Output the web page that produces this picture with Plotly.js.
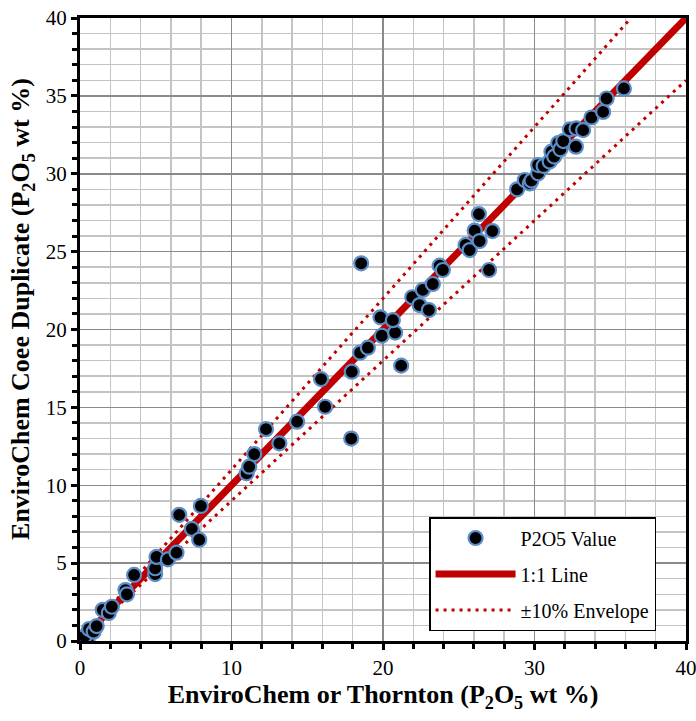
<!DOCTYPE html>
<html>
<head>
<meta charset="utf-8">
<script src="https://cdn.plot.ly/plotly-3.0.1.min.js"></script>
<style>html,body{margin:0;padding:0;background:#fff;}#chart{width:696px;height:721px;}</style>
</head>
<body>
<div id="chart"></div>
<script>
// Measured P2O5 values (wt %)
const xValues = [0.1,0.5,0.3,0.6,0.9,1.1,1.5,1.9,2.1,3.0,3.1,3.57,4.96,4.96,5.05,5.8,6.37,6.55,7.38,7.87,7.98,
  11.0,11.17,11.5,12.28,13.16,14.33,15.91,16.18,17.9,17.94,18.49,19.0,19.92,20.8,21.2,18.56,19.83,20.65,
  21.93,22.41,23.03,22.63,23.29,23.74,23.95,25.45,25.72,26.05,26.38,26.33,27.22,27.0,
  28.85,29.36,29.69,29.8,30.24,30.24,30.6,31.0,31.12,31.3,31.56,31.71,31.9,32.73,32.33,32.77,33.21,33.76,34.53,34.76,35.9];
const yValues = [0.05,0.0,0.3,0.77,0.6,0.96,2.0,1.8,2.2,3.27,3.0,4.24,4.3,4.67,5.4,5.24,5.67,8.1,7.2,6.5,8.67,
  10.77,11.19,12.0,13.6,12.69,14.08,16.82,15.04,13.0,17.29,18.51,18.83,19.6,19.8,17.68,24.25,20.78,20.6,
  22.07,21.57,21.25,22.54,22.92,24.1,23.82,25.43,25.1,26.35,25.68,27.41,26.32,23.82,
  29.0,29.6,29.38,29.56,30.03,30.56,30.5,30.78,31.42,31.1,31.96,31.57,32.1,31.74,32.85,32.91,32.8,33.61,33.97,34.83,35.48];
// 1:1 line and +/-10% envelope end points
const oneToOneX = [0, 40];
const oneToOneY = [0, 40];
const upperX = [0, 40/1.1];
const upperY = [0, 40];
const lowerX = [0, 40];
const lowerY = [0, 36];

const red = '#C00000';
const serif = 'Liberation Serif, Times New Roman, DejaVu Serif, serif';

const traces = [
  {x: upperX, y: upperY, mode: 'lines', name: '±10% Envelope', legendrank: 3, legendgroup: 'c',
   line: {color: red, width: 3, dash: '3px,5px'}, hoverinfo: 'skip'},
  {x: lowerX, y: lowerY, mode: 'lines', name: '±10% Envelope', showlegend: false, legendgroup: 'c',
   line: {color: red, width: 3, dash: '3px,5px'}, hoverinfo: 'skip'},
  {x: oneToOneX, y: oneToOneY, mode: 'lines', name: '1:1 Line', legendrank: 2, legendgroup: 'b',
   line: {color: red, width: 7}},
  {x: xValues, y: yValues, mode: 'markers', name: 'P2O5 Value', legendrank: 1, legendgroup: 'a',
   marker: {color: '#000000', size: 14, line: {color: '#5B8DC8', width: 2.2}}}
];

const layout = {
  width: 696, height: 721,
  margin: {l: 80, r: 10, t: 18, b: 80},
  paper_bgcolor: '#ffffff', plot_bgcolor: '#ffffff',
  font: {family: serif, color: '#000', size: 21, weight: 'normal'},
  showlegend: true,
  legend: {
    x: 0.576, y: 0.199, xanchor: 'left', yanchor: 'top',
    bgcolor: '#ffffff', bordercolor: '#000', borderwidth: 1.5,
    font: {family: serif, size: 20, color: '#000', weight: 'normal'},
    traceorder: 'grouped', tracegroupgap: 7, itemwidth: 80
  },
  xaxis: {
    range: [0, 40], dtick: 10, tick0: 0, ticklabeloverflow: 'allow',
    showline: true, linecolor: '#000', linewidth: 3, mirror: true,
    ticks: 'outside', ticklen: 6, tickwidth: 3, tickcolor: '#000',
    showgrid: true, gridcolor: '#8a8a8a', gridwidth: 1.5, zeroline: false,
    tickfont: {family: serif, size: 21, color: '#000', weight: 'normal'},
    minor: {dtick: 2, showgrid: true, gridcolor: '#c4c4c4', gridwidth: 1.5, ticks: 'outside', ticklen: 5, tickwidth: 3, tickcolor: '#000'},
    title: {text: 'EnviroChem or Thornton (P<sub>2</sub>O<sub>5</sub> wt %)', font: {family: serif, size: 26, color: '#000', weight: 'bold'}, standoff: 6}
  },
  yaxis: {
    range: [0, 40], dtick: 5, tick0: 0, ticklabeloverflow: 'allow',
    showline: true, linecolor: '#000', linewidth: 3, mirror: true,
    ticks: 'outside', ticklen: 6, tickwidth: 3, tickcolor: '#000',
    showgrid: true, gridcolor: '#8a8a8a', gridwidth: 1.5, zeroline: false,
    tickfont: {family: serif, size: 21, color: '#000', weight: 'normal'},
    minor: {dtick: 1, showgrid: true, gridcolor: '#c4c4c4', gridwidth: 1.5, ticks: 'outside', ticklen: 5, tickwidth: 3, tickcolor: '#000'}
  },
  annotations: [{
    text: 'EnviroChem Coee Duplicate (P<sub>2</sub>O<sub>5</sub> wt %)',
    xref: 'paper', yref: 'paper', x: -0.0957, y: 0.533, textangle: -90,
    showarrow: false, xanchor: 'center', yanchor: 'middle',
    font: {family: serif, size: 26, color: '#000', weight: 'bold'}
  }]
};

Plotly.newPlot('chart', traces, layout, {displayModeBar: false, staticPlot: true});
</script>
</body>
</html>
